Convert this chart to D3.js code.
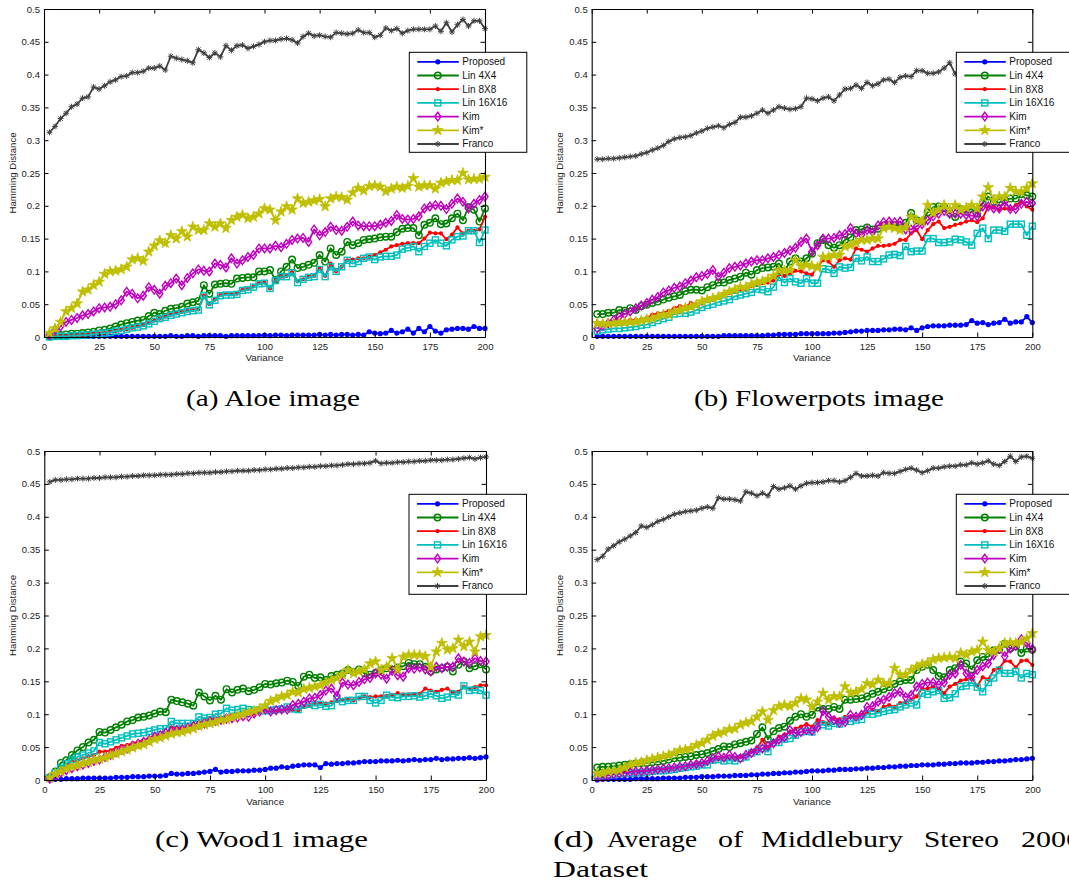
<!DOCTYPE html>
<html><head><meta charset="utf-8">
<script src="https://cdn.jsdelivr.net/npm/d3@7"></script>
<style>html,body{margin:0;padding:0;background:#fff}svg{display:block}</style>
</head><body>
<svg id="fig" width="1069" height="883"></svg>
<script>
// ---------------- DATA ----------------
const variance = [2.5,5,7.5,10,12.5,15,17.5,20,22.5,25,27.5,30,32.5,35,37.5,40,42.5,45,47.5,50,52.5,55,57.5,60,62.5,65,67.5,70,72.5,75,77.5,80,82.5,85,87.5,90,92.5,95,97.5,100,102.5,105,107.5,110,112.5,115,117.5,120,122.5,125,127.5,130,132.5,135,137.5,140,142.5,145,147.5,150,152.5,155,157.5,160,162.5,165,167.5,170,172.5,175,177.5,180,182.5,185,187.5,190,192.5,195,197.5,200];
const xTickValues = [0,25,50,75,100,125,150,175,200];
const yTickValues = [0,0.05,0.1,0.15,0.2,0.25,0.3,0.35,0.4,0.45,0.5];
const yTickLabels = ["0","0.05","0.1","0.15","0.2","0.25","0.3","0.35","0.4","0.45","0.5"];
const seriesNames = ["Proposed","Lin 4X4","Lin 8X8","Lin 16X16","Kim","Kim*","Franco"];
const xLabel = "Variance";
const yLabel = "Hamming Distance";

// Hamming distance values in thousandths, one value per variance step
// (a) Aloe
const aloeProposed = [0,0,0,1,1,1,1,1,1,1,1,1,1,1,1,1,1,1,1,1,1,1,2,1,1,2,2,1,2,2,2,2,1,2,2,2,2,2,2,3,2,3,3,2,3,3,3,3,3,4,3,4,3,4,4,3,4,3,8,6,5,6,10,6,8,12,6,13,8,16,9,6,11,12,13,13,12,16,13,13];
const aloeLin4 = [1,2,3,4,5,5,6,7,8,10,11,13,16,19,21,23,25,26,32,37,35,40,43,44,46,51,53,55,79,66,80,81,82,81,89,90,91,91,100,100,102,87,100,107,118,105,107,110,113,125,115,135,125,130,145,140,143,148,149,150,152,153,153,160,165,166,166,155,171,174,181,172,173,181,188,178,198,194,176,196];
const aloeLin8 = [0,1,1,2,2,3,3,4,5,5,6,8,9,11,12,14,16,18,21,25,28,31,34,36,38,40,41,42,63,50,57,64,65,65,66,72,73,77,82,83,74,86,92,93,99,85,88,92,93,105,93,112,100,107,117,118,120,120,122,125,129,133,138,140,142,143,143,143,150,159,158,158,149,156,167,158,162,162,164,183];
const aloeLin16 = [0,1,1,1,2,2,3,3,4,5,6,7,9,10,12,14,15,17,20,24,28,30,33,35,37,39,40,41,63,49,56,63,64,64,65,71,72,76,81,82,74,86,92,92,98,83,88,91,92,103,92,107,100,107,117,112,115,120,122,118,122,123,123,125,134,136,138,130,138,143,148,143,139,148,153,154,162,162,144,163];
const aloeKim = [3,11,16,23,26,29,33,35,39,44,45,46,50,56,69,66,59,63,76,72,66,78,82,89,79,90,97,103,101,100,112,110,106,120,112,117,122,125,135,135,135,139,137,142,148,150,151,145,164,155,160,168,163,162,168,176,170,169,169,169,171,174,177,186,180,179,180,184,196,199,201,200,195,203,211,206,196,203,209,214];
const aloeKimStar = [6,13,23,39,44,51,69,72,79,84,96,100,101,103,107,118,120,116,130,139,147,143,155,150,161,153,168,163,163,173,168,173,166,178,183,186,181,183,188,196,194,178,191,199,194,211,204,206,208,210,199,211,214,213,209,220,227,223,230,231,229,222,226,229,227,230,242,229,231,231,226,235,237,239,239,250,240,241,241,244];
const aloeFranco = [312,321,333,341,351,355,364,366,381,378,383,389,392,397,398,403,403,405,410,410,413,407,428,425,423,421,418,438,433,426,433,427,444,437,444,445,440,443,446,450,452,452,454,455,453,448,458,463,459,460,458,457,464,463,462,463,468,464,464,457,460,471,467,470,463,467,469,469,469,469,474,466,479,465,476,484,474,482,482,470];

// (b) Flowerpots
const flowerProposed = [1,1,1,1,1,1,1,1,1,1,1,1,1,1,1,1,1,1,1,1,1,1,1,2,2,2,2,2,2,2,2,3,3,4,4,4,4,5,5,5,5,5,5,6,6,7,8,9,9,10,10,10,11,11,12,12,11,14,10,14,16,17,17,17,18,18,18,19,25,21,22,19,21,22,27,21,23,23,31,22];
const flowerLin4 = [35,35,37,37,41,40,44,41,47,49,52,54,57,60,62,64,70,72,72,71,76,79,83,83,87,89,92,98,95,102,105,106,107,112,100,115,120,115,120,127,143,148,140,136,140,148,152,163,164,167,164,165,170,171,170,170,174,189,178,176,190,198,199,198,189,183,195,194,195,188,204,214,206,205,209,211,211,218,216,214];
const flowerLin8 = [22,18,18,20,23,24,26,26,27,29,34,36,37,40,44,47,46,52,50,51,57,58,61,66,67,70,72,72,78,79,82,83,86,95,93,96,101,100,97,95,107,117,115,107,117,120,118,135,133,130,135,139,139,140,142,148,148,158,163,149,163,172,176,166,168,171,173,176,178,175,181,199,197,194,196,195,201,206,199,194];
const flowerLin16 = [9,11,12,13,13,14,15,16,18,19,22,25,28,30,35,36,36,38,41,45,48,50,53,55,57,62,64,66,68,73,72,69,76,91,83,89,84,82,89,82,82,104,103,97,107,105,106,120,116,122,115,115,119,125,126,124,138,130,131,131,150,150,144,144,145,149,148,145,140,158,166,150,163,163,161,172,172,172,155,169];
const flowerKim = [13,17,21,26,31,35,39,44,48,52,57,61,68,71,75,77,82,86,91,93,96,102,92,98,105,107,109,112,115,117,117,120,122,125,128,132,136,145,150,130,140,150,150,151,155,157,166,158,156,163,160,170,175,176,175,176,164,164,169,172,178,184,188,192,188,188,188,186,185,184,199,199,196,196,206,195,195,203,206,204];
const flowerKimStar = [21,20,20,21,22,22,23,23,25,27,28,31,34,34,39,41,44,46,49,54,57,59,61,65,69,72,76,76,80,83,85,88,93,102,101,102,117,108,110,108,106,122,122,125,125,138,140,144,148,148,150,150,166,168,166,163,167,183,178,176,201,189,194,201,194,201,194,197,201,196,214,228,209,214,214,227,222,221,227,234];
const flowerFranco = [271,271,272,272,273,274,275,276,279,281,285,288,292,298,302,304,305,307,311,314,318,320,322,319,324,327,335,335,337,341,346,341,346,351,349,347,348,351,364,363,360,364,366,360,369,378,379,384,379,388,383,386,392,393,388,396,398,397,406,406,402,402,404,410,418,401,405,410,408,413,415,412,418,420,417,422,425,421,428,426];

// (c) Wood1
const woodProposed = [0,1,1,2,2,2,3,3,3,3,3,3,4,4,4,5,5,5,6,6,6,7,10,9,9,10,10,11,12,13,16,12,13,13,14,14,14,15,15,16,18,18,20,19,21,22,23,23,23,19,25,24,25,25,26,26,27,28,28,28,29,29,29,30,29,30,31,30,31,31,33,31,32,32,33,33,34,33,34,35];
const woodLin4 = [4,13,26,30,38,45,50,57,61,73,72,76,80,84,89,91,95,96,98,101,104,103,122,120,118,116,113,133,127,121,128,122,138,133,137,139,135,137,141,146,145,147,148,151,149,143,157,160,155,156,152,158,160,162,167,164,168,162,160,163,167,170,168,171,173,178,176,176,172,165,168,170,172,165,175,180,170,173,176,168];
const woodLin8 = [3,10,16,23,28,30,33,36,38,43,43,45,49,52,53,56,58,61,63,66,68,71,80,79,79,81,84,87,91,94,92,94,97,99,100,101,102,101,105,106,105,104,105,107,106,106,111,114,117,116,116,118,120,122,122,121,124,127,126,127,127,128,129,132,130,130,130,131,139,136,134,137,139,133,134,142,139,141,144,144];
const woodLin16 = [3,11,18,25,31,35,38,41,44,57,55,58,61,64,67,70,71,72,74,76,78,78,89,86,86,86,86,96,94,95,100,101,109,106,107,109,107,106,106,105,106,107,108,111,108,107,114,115,113,115,112,113,123,119,121,121,127,127,121,117,121,129,126,125,127,127,128,126,128,131,128,124,126,131,129,143,136,137,136,129];
const woodKim = [2,6,11,15,18,21,23,26,29,31,35,38,42,46,48,52,55,58,61,66,68,72,74,76,77,79,82,84,86,89,90,91,93,94,95,97,96,101,104,107,104,106,107,107,114,116,119,124,125,129,136,139,128,148,145,144,149,153,155,162,160,154,166,159,157,170,169,171,168,165,172,170,172,172,185,180,178,185,181,180];
const woodKimStar = [3,9,13,17,20,22,25,27,30,32,34,37,40,43,46,49,52,54,58,62,64,67,70,72,73,76,78,82,84,86,88,91,92,95,98,100,103,105,108,113,120,123,127,129,134,133,138,140,142,144,148,152,155,160,167,162,165,168,177,180,167,172,185,168,187,190,190,190,188,172,195,208,198,200,213,203,210,195,218,220];
const woodFranco = [453,456,456,457,457,458,458,458,459,459,460,460,460,461,461,462,462,463,463,463,464,464,464,465,465,466,466,467,467,467,468,468,469,469,470,470,470,471,471,472,472,473,473,474,474,475,475,476,476,477,477,478,478,479,480,480,481,481,482,485,481,482,482,483,483,484,484,485,485,486,486,486,487,487,488,489,490,488,490,491];

// (d) Average of Middlebury Stereo 2006 Dataset
const avgProposed = [0,1,1,1,1,1,1,2,2,2,2,2,3,3,3,3,4,4,4,5,5,5,6,6,6,7,7,7,8,8,9,9,10,10,11,11,12,12,13,14,14,14,15,15,16,16,16,17,17,18,18,19,19,20,20,21,21,22,22,23,23,23,24,24,25,25,26,26,26,27,27,28,28,29,29,30,31,31,32,33];
const avgLin4 = [19,20,20,21,22,23,24,25,26,26,27,28,29,31,33,34,35,36,38,39,41,44,47,51,50,54,56,58,60,70,80,62,74,79,81,90,96,100,96,99,110,108,108,111,108,122,122,123,124,127,131,134,138,141,146,150,152,152,167,172,175,167,158,156,167,170,180,177,168,182,187,187,197,198,207,200,203,193,200,198];
const avgLin8 = [10,10,11,11,12,13,13,14,14,15,15,16,17,18,19,20,21,23,24,26,27,31,31,34,33,34,35,38,43,48,61,48,58,66,69,72,78,81,85,81,91,88,86,94,92,96,95,96,99,102,107,105,111,114,111,117,118,122,127,139,139,142,139,132,142,146,151,153,155,143,156,153,167,170,181,180,171,181,182,175];
const avgLin16 = [6,7,8,8,9,10,10,11,11,12,13,14,14,15,16,18,19,20,21,23,23,30,31,29,30,29,33,35,41,43,48,43,57,57,62,63,68,73,74,73,82,84,82,86,85,91,89,91,92,100,100,102,104,106,107,111,114,117,114,132,130,134,136,124,125,131,142,143,148,141,134,148,155,167,162,162,165,155,162,160];
const avgKim = [5,5,7,9,10,11,12,13,13,14,15,16,17,18,19,20,21,23,24,26,29,33,36,34,38,35,33,38,41,46,48,52,56,61,65,76,71,73,76,75,80,105,96,91,87,88,99,96,99,111,112,119,122,126,132,134,126,129,142,146,148,148,145,148,160,162,175,162,157,167,173,177,190,199,188,200,204,214,208,199];
const avgKimStar = [10,10,13,14,15,19,23,26,27,30,32,34,36,38,41,45,46,48,53,56,61,67,71,73,77,78,84,87,89,96,104,91,106,112,114,112,117,124,122,111,119,132,122,127,127,142,132,134,138,147,145,152,147,147,170,160,160,167,172,176,178,183,185,186,187,185,193,190,195,197,210,197,195,200,208,209,208,210,215,223];
const avgFranco = [335,340,351,356,362,366,371,376,386,384,388,393,396,400,404,406,408,409,410,413,415,413,429,427,427,426,424,438,436,432,436,432,446,442,444,447,442,447,451,452,452,453,455,455,453,455,460,466,462,462,463,462,467,466,466,469,472,474,471,467,470,474,474,476,477,477,479,479,482,480,482,485,480,478,484,492,484,491,492,489];

const captionA = "(a) Aloe image";
const captionB = "(b) Flowerpots image";
const captionC = "(c) Wood1 image";
const captionDLine1 = ["(d)","Average","of","Middlebury","Stereo","2006"];
const captionDLine2 = "Dataset";

// ---------------- STYLE ----------------
const seriesStyles = [
  {color:"#0000ff", marker:"dot"},
  {color:"#008000", marker:"circle"},
  {color:"#ff0000", marker:"smalldot"},
  {color:"#00bfbf", marker:"square"},
  {color:"#bf00bf", marker:"diamond"},
  {color:"#bfbf00", marker:"star"},
  {color:"#404040", marker:"asterisk"}
];
const SANS = "'Liberation Sans', Arial, Helvetica, sans-serif";
const SERIF = "'Liberation Serif', 'Times New Roman', serif";

const panels = [
  {left:44, right:485, top:9, bottom:337, legX:409.3, legY:52.3, ylabX:16, xlabY:361,
   values:[aloeProposed,aloeLin4,aloeLin8,aloeLin16,aloeKim,aloeKimStar,aloeFranco]},
  {left:591.7, right:1032.3, top:9, bottom:337, legX:956.3, legY:52.3, ylabX:562.8, xlabY:361,
   values:[flowerProposed,flowerLin4,flowerLin8,flowerLin16,flowerKim,flowerKimStar,flowerFranco]},
  {left:44.3, right:486, top:451, bottom:780, legX:409, legY:494.3, ylabX:16, xlabY:804.5,
   values:[woodProposed,woodLin4,woodLin8,woodLin16,woodKim,woodKimStar,woodFranco]},
  {left:591.7, right:1032.3, top:451, bottom:780, legX:956.3, legY:494.3, ylabX:562.8, xlabY:804.5,
   values:[avgProposed,avgLin4,avgLin8,avgLin16,avgKim,avgKimStar,avgFranco]}
];

const svg = d3.select("#fig");
svg.append("rect").attr("width",1069).attr("height",883).attr("fill","#fff");

function starPath(R){
  const r = R*0.382; let p = [];
  for(let k=0;k<10;k++){
    const a = -Math.PI/2 + k*Math.PI/5; const rr = k%2===0?R:r;
    p.push([rr*Math.cos(a), rr*Math.sin(a)]);
  }
  return "M"+p.map(q=>q[0].toFixed(2)+","+q[1].toFixed(2)).join("L")+"Z";
}
const STAR = starPath(5.6);

function addMarker(sel, type, color){
  switch(type){
    case "dot": sel.append("circle").attr("r",2.6).attr("fill",color); break;
    case "smalldot": sel.append("circle").attr("r",2.1).attr("fill",color); break;
    case "circle": sel.append("circle").attr("r",3.3).attr("fill","none").attr("stroke",color).attr("stroke-width",1.4); break;
    case "square": sel.append("rect").attr("x",-3).attr("y",-3).attr("width",6).attr("height",6).attr("fill","none").attr("stroke",color).attr("stroke-width",1.4); break;
    case "diamond": sel.append("path").attr("d","M0,-4.3L3.1,0L0,4.3L-3.1,0Z").attr("fill","none").attr("stroke",color).attr("stroke-width",1.4); break;
    case "star": sel.append("path").attr("d",STAR).attr("fill",color).attr("stroke",color).attr("stroke-width",0.8).attr("stroke-linejoin","round"); break;
    case "asterisk": sel.append("path").attr("d","M-3,0H3M0,-3V3M-2.2,-2.2L2.2,2.2M-2.2,2.2L2.2,-2.2").attr("fill","none").attr("stroke",color).attr("stroke-width",1); break;
  }
}

panels.forEach(P=>{
  const g = svg.append("g");
  const x = d3.scaleLinear().domain([0,200]).range([P.left,P.right]);
  const y = d3.scaleLinear().domain([0,0.5]).range([P.bottom,P.top]);

  P.values.forEach((vals,si)=>{
    const st = seriesStyles[si];
    const pts = vals.map((v,i)=>[variance[i], v/1000]);
    const line = d3.line().x(d=>x(d[0])).y(d=>y(d[1]));
    g.append("path").attr("d",line(pts)).attr("fill","none").attr("stroke",st.color)
      .attr("stroke-width",1.8).attr("stroke-linejoin","round");
    const m = g.append("g").selectAll("g").data(pts).join("g")
      .attr("transform",d=>`translate(${x(d[0])},${y(d[1])})`);
    addMarker(m, st.marker, st.color);
  });

  const axL = d3.axisLeft(y).tickValues(yTickValues).tickFormat((d,i)=>yTickLabels[i]).tickSizeInner(-4.5).tickSizeOuter(0).tickPadding(4);
  const axB = d3.axisBottom(x).tickValues(xTickValues).tickFormat(d3.format("d")).tickSizeInner(-4.5).tickSizeOuter(0).tickPadding(6);
  const axT = d3.axisTop(x).tickValues(xTickValues).tickFormat("").tickSizeInner(-4.5).tickSizeOuter(0);
  const axR = d3.axisRight(y).tickValues(yTickValues).tickFormat("").tickSizeInner(-4.5).tickSizeOuter(0);
  g.append("g").attr("transform",`translate(${P.left},0)`).call(axL);
  g.append("g").attr("transform",`translate(0,${P.bottom})`).call(axB);
  g.append("g").attr("transform",`translate(0,${P.top})`).call(axT);
  g.append("g").attr("transform",`translate(${P.right},0)`).call(axR);
  g.selectAll(".domain").attr("stroke","#000").attr("stroke-width",1.1);
  g.selectAll(".tick line").attr("stroke","#000").attr("stroke-width",1);
  g.selectAll(".tick text").attr("font-family",SANS).attr("font-size",9.5).attr("fill","#222");

  g.append("text").attr("transform",`translate(${P.ylabX},${(P.top+P.bottom)/2}) rotate(-90)`)
    .attr("text-anchor","middle").attr("font-family",SANS).attr("font-size",9)
    .attr("textLength",81).attr("lengthAdjust","spacingAndGlyphs").attr("fill","#222").text(yLabel);
  g.append("text").attr("x",(P.left+P.right)/2).attr("y",P.xlabY)
    .attr("text-anchor","middle").attr("font-family",SANS).attr("font-size",9)
    .attr("textLength",38).attr("lengthAdjust","spacingAndGlyphs").attr("fill","#222").text(xLabel);

  const lg = g.append("g").attr("transform",`translate(${P.legX},${P.legY})`);
  lg.append("rect").attr("x",0).attr("y",0).attr("width",117.5).attr("height",100)
    .attr("fill","#fff").attr("stroke","#000").attr("stroke-width",1);
  seriesNames.forEach((name,i)=>{
    const st = seriesStyles[i];
    const ry = 9.5 + i*13.7;
    lg.append("line").attr("x1",8).attr("x2",49.5).attr("y1",ry).attr("y2",ry)
      .attr("stroke",st.color).attr("stroke-width",1.8);
    const mk = lg.append("g").attr("transform",`translate(28.5,${ry})`);
    addMarker(mk, st.marker, st.color);
    lg.append("text").attr("x",53).attr("y",ry).attr("dy","0.35em")
      .attr("font-family",SANS).attr("font-size",10).attr("fill","#111").text(name);
  });
});

function cap(txt,x0,w,yb){
  svg.append("text").attr("x",x0).attr("y",yb).attr("font-family",SERIF).attr("font-size",22.5)
    .attr("textLength",w).attr("lengthAdjust","spacingAndGlyphs").attr("fill","#000").text(txt);
}
cap(captionA,186,174,406);
cap(captionB,694,250,406);
cap(captionC,155,213,847);
const dPos = [[553,41],[607,90],[718,25],[761,142],[924,75],[1021,60]];
captionDLine1.forEach((w,i)=>cap(w,dPos[i][0],dPos[i][1],847));
cap(captionDLine2,553,95,877);
</script>
</body></html>
